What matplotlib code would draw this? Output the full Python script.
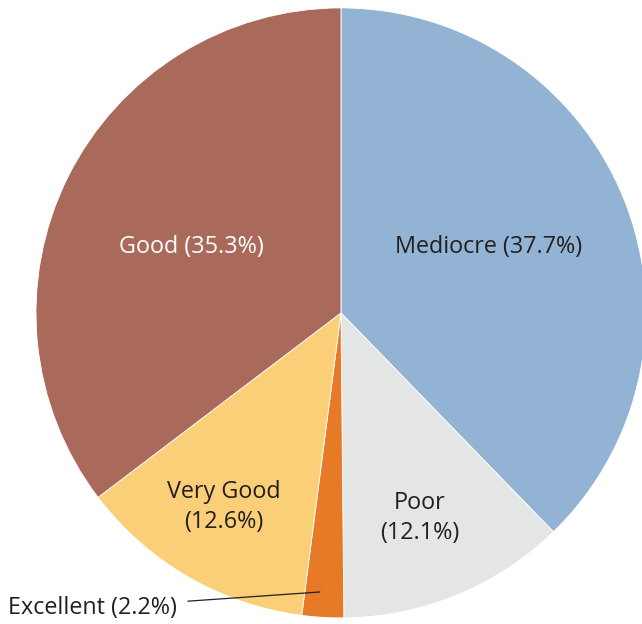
import matplotlib

matplotlib.use("Agg")
import matplotlib.pyplot as plt

# share of ratings, clockwise from 12 o'clock
categories = ["Mediocre", "Poor", "Excellent", "Very Good", "Good"]
shares = [37.7, 12.1, 2.2, 12.6, 35.3]
colors = ["#92B3D3", "#E4E5E5", "#E67A26", "#FBCF78", "#A96A5B"]

plt.rcParams["font.family"] = ["Open Sans", "DejaVu Sans"]

fig = plt.figure(figsize=(6.42, 6.24), dpi=100)
ax = fig.add_axes([0, 0, 1, 1])
ax.pie(
    shares,
    colors=colors,
    startangle=90,
    counterclock=False,
    radius=1.0,
    wedgeprops=dict(edgecolor="white", linewidth=0.6),
)

# pie centre sits left of the middle and the right rim runs off the canvas
ax.set_xlim(-1.118, 0.987)
ax.set_ylim(-1.020, 1.026)
ax.set_aspect("auto")
ax.axis("off")


def label(name, split=False):
    v = shares[categories.index(name)]
    return f"{name}\n({v}%)" if split else f"{name} ({v}%)"


FS = 16.8
txt = dict(fontsize=FS, ha="center", va="center", color="#231F20")
ax.text(0.485, 0.216, label("Mediocre"), **txt)
ax.text(-0.489, 0.216, label("Good"), **{**txt, "color": "white"})
ax.text(0.259, -0.672, label("Poor", split=True), linespacing=1.3, **txt)
ax.text(-0.384, -0.636, label("Very Good", split=True), linespacing=1.3, **txt)

ax.annotate(
    label("Excellent"),
    xy=(-0.069, -0.915),
    xytext=(-1.092, -0.967),
    fontsize=FS,
    ha="left",
    va="center",
    color="#231F20",
    arrowprops=dict(arrowstyle="-", color="#231F20", lw=0.9, shrinkA=6, shrinkB=0),
)

fig.savefig("out.png", dpi=100)
